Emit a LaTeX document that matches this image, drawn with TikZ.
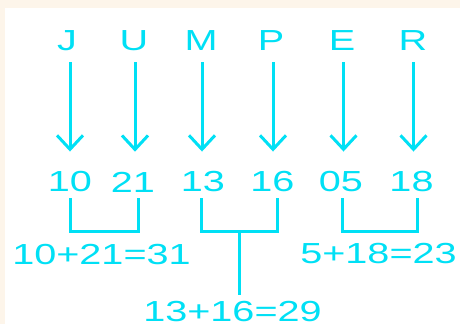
\documentclass[tikz,border=0pt]{standalone}
\usepackage{fontspec}
\setmainfont{Liberation Sans}
\usetikzlibrary{arrows.meta,calc}
\definecolor{cyanink}{RGB}{0,224,245}
\definecolor{cream}{RGB}{253,245,234}
\tikzset{
  txt/.style={inner sep=0pt, text=cyanink, font=\fontsize{29}{29}\selectfont, xscale=1.366},
  arr/.style={draw=cyanink, line width=3pt, -{Straight Barb[length=14pt,width=26pt]}},
  br/.style={draw=cyanink, line width=3pt}
}
\begin{document}
\begin{tikzpicture}[x=1pt,y=-1pt]
\useasboundingbox (0,0) rectangle (460,324);
\fill[cream] (0,0) rectangle (460,324);
\fill[white] (5,8) rectangle (460,324);
% letters
\node[txt] (J) at (67,41) {J};
\node[txt] (U) at (134,41) {U};
\node[txt] (M) at (201,41) {M};
\node[txt] (P) at (271,41) {P};
\node[txt] (E) at (342,41) {E};
\node[txt] (R) at (413,41) {R};
% numbers
\node[txt] (n10) at (70,182) {10};
\node[txt] (n21) at (133,182) {21};
\node[txt] (n13) at (203,182) {13};
\node[txt] (n16) at (272.5,182) {16};
\node[txt] (n05) at (341,182) {05};
\node[txt] (n18) at (411.5,182) {18};
% sums
\node[txt] (s1) at (101.5,255) {10+21=31};
\node[txt] (s3) at (378.5,254) {5+18=23};
\node[txt] (s2) at (232.5,311.5) {13+16=29};
% arrows
\draw[arr] ([xshift=3pt,yshift=-11pt]J.south) -- ([xshift=3pt,yshift=20pt]J.south |- n10.north);
\draw[arr] ([xshift=1pt,yshift=-11pt]U.south) -- ([xshift=1pt,yshift=20pt]U.south |- n21.north);
\draw[arr] ([xshift=1pt,yshift=-11pt]M.south) -- ([xshift=1pt,yshift=20pt]M.south |- n13.north);
\draw[arr] ([xshift=2pt,yshift=-11pt]P.south) -- ([xshift=2pt,yshift=20pt]P.south |- n16.north);
\draw[arr] ([xshift=1.5pt,yshift=-11pt]E.south) -- ([xshift=1.5pt,yshift=20pt]E.south |- n05.north);
\draw[arr] ([xshift=0.5pt,yshift=-11pt]R.south) -- ([xshift=0.5pt,yshift=20pt]R.south |- n18.north);
% brackets
\draw[br] ([yshift=-6pt]n10.south) -- ++(0,33) -| ([xshift=5pt,yshift=-6pt]n21.south);
\draw[br] ([xshift=-2pt,yshift=-6pt]n13.south) -- ++(0,33) -| ([xshift=4.5pt,yshift=-6pt]n16.south);
\draw[br] ([xshift=1pt,yshift=-6pt]n05.south) -- ++(0,33) -| ([xshift=5.5pt,yshift=-6pt]n18.south);
\coordinate (mid) at ($([xshift=-2pt,yshift=-39pt]n13.south)!0.5!([xshift=4.5pt,yshift=-39pt]n16.south)$);
\draw[br] (mid) -- ([yshift=6.5pt]mid |- s2.north);
\end{tikzpicture}
\end{document}
